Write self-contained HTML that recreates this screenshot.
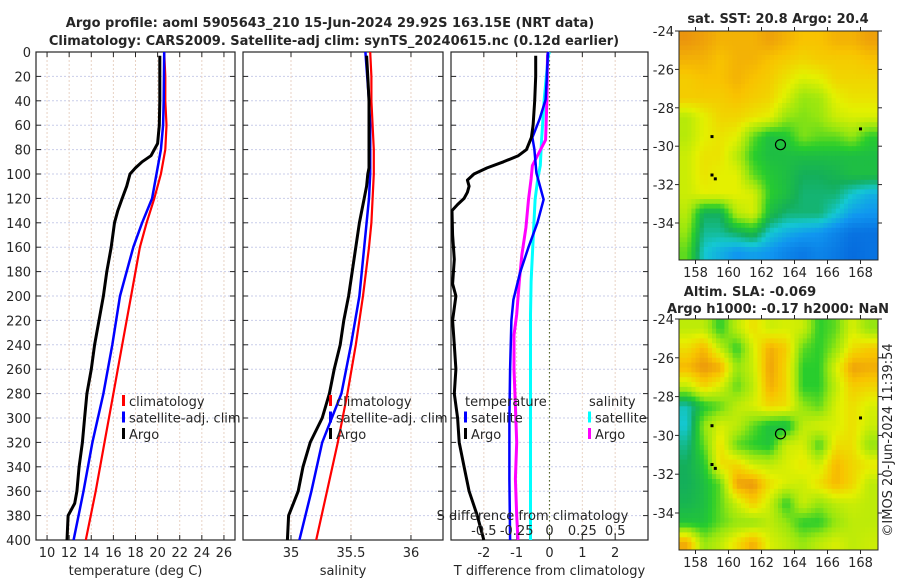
<!DOCTYPE html>
<html><head><meta charset="utf-8"><style>
html,body{margin:0;padding:0;background:#fff;}
svg{display:block;font-family:"DejaVu Sans","Liberation Sans",sans-serif;}
</style></head><body>
<svg id="fig" width="900" height="580" viewBox="0 0 900 580"></svg>
<script>
// ---------- data ----------
const depthTicks=[0,20,40,60,80,100,120,140,160,180,200,220,240,260,280,300,320,340,360,380,400];
const tempTicks=[10,12,14,16,18,20,22,24,26];
const salTicks=[35,35.5,36];
const salTickLabels=["35","35.5","36"];
const tdiffTicks=[-2,-1,0,1,2];
const sdiffTicks=[-0.5,-0.25,0,0.25,0.5];
const sdiffTickLabels=["-0.5","-0.25","0","0.25","0.5"];
const latTicks=[-24,-26,-28,-30,-32,-34];
const lonTicks=[158,160,162,164,166,168];

const climDepth=[0,20,40,60,80,100,120,140,160,200,240,280,320,360,400];
const climTemp=[20.6,20.7,20.7,20.8,20.7,20.3,19.7,19.0,18.4,17.6,16.8,16.0,15.2,14.4,13.5];
const satDepth=[0,40,60,80,100,120,140,160,200,240,280,320,360,400];
const satTemp=[20.6,20.55,20.5,20.3,19.9,19.5,18.6,17.8,16.6,15.9,15.1,14.1,13.3,12.4];
const argoDepth=[3,20,40,60,75,85,90,95,100,110,120,130,140,160,180,200,220,240,260,280,300,320,340,360,370,380,400];
const argoTemp=[20.2,20.2,20.2,20.15,20.0,19.4,18.6,18.0,17.5,17.2,16.8,16.4,16.1,15.8,15.4,15.1,14.7,14.3,14.0,13.6,13.4,13.2,12.9,12.7,12.5,11.9,11.8];

const climSal=[35.66,35.67,35.67,35.68,35.69,35.69,35.68,35.67,35.65,35.6,35.54,35.47,35.39,35.3,35.21];
const satSal=[35.62,35.65,35.66,35.66,35.66,35.65,35.63,35.61,35.57,35.5,35.42,35.26,35.17,35.07];
const argoSal=[35.63,35.64,35.65,35.65,35.65,35.65,35.65,35.65,35.64,35.63,35.61,35.59,35.57,35.54,35.51,35.48,35.44,35.41,35.36,35.32,35.26,35.16,35.1,35.06,35.02,34.98,34.97];

const tdDepth=[3,20,40,60,70,80,85,90,95,100,105,110,115,120,125,130,150,170,190,200,220,240,260,280,300,320,340,360,380,400];
const argoTdiff=[-0.42,-0.42,-0.45,-0.5,-0.55,-0.7,-0.95,-1.4,-1.9,-2.3,-2.5,-2.45,-2.5,-2.6,-2.8,-2.97,-2.95,-2.9,-2.95,-2.85,-2.95,-2.9,-2.85,-2.9,-2.8,-2.75,-2.6,-2.45,-2.2,-2.0];
const satTdDepth=[0,20,39,55,70,80,99,121,140,160,181,203,220,260,300,350,400];
const satTdiff=[-0.05,-0.08,-0.12,-0.3,-0.52,-0.46,-0.4,-0.18,-0.37,-0.64,-0.9,-1.1,-1.16,-1.2,-1.22,-1.22,-1.2];
const sdDepth=[0,3,39,72,93,104,121,144,166,188,215,232,260,290,320,350,380,400];
const argoSdiff=[-0.01,-0.015,-0.02,-0.03,-0.13,-0.14,-0.16,-0.18,-0.21,-0.23,-0.25,-0.27,-0.27,-0.26,-0.25,-0.26,-0.25,-0.24];
const satSdiff=[0,-0.01,-0.04,-0.06,-0.07,-0.09,-0.11,-0.12,-0.13,-0.14,-0.145,-0.145,-0.145,-0.145,-0.145,-0.145,-0.145,-0.145];

const sstGrid=[
[0.9,0.88,0.85,0.85,0.85,0.88,0.85,0.82,0.82,0.85,0.85,0.88],
[0.85,0.85,0.82,0.85,0.85,0.82,0.8,0.78,0.8,0.8,0.8,0.82],
[0.8,0.82,0.82,0.85,0.82,0.8,0.75,0.7,0.72,0.78,0.78,0.78],
[0.8,0.8,0.8,0.82,0.8,0.78,0.7,0.6,0.62,0.72,0.75,0.75],
[0.65,0.72,0.78,0.78,0.75,0.72,0.6,0.58,0.6,0.68,0.7,0.7],
[0.65,0.72,0.75,0.72,0.55,0.45,0.48,0.58,0.55,0.55,0.6,0.5],
[0.68,0.75,0.75,0.65,0.5,0.45,0.45,0.45,0.45,0.45,0.45,0.45],
[0.68,0.75,0.72,0.72,0.55,0.48,0.45,0.4,0.4,0.42,0.45,0.45],
[0.68,0.72,0.72,0.72,0.7,0.5,0.45,0.38,0.38,0.38,0.3,0.25],
[0.65,0.4,0.4,0.65,0.7,0.45,0.38,0.38,0.38,0.3,0.22,0.2],
[0.6,0.35,0.35,0.4,0.45,0.3,0.25,0.22,0.2,0.15,0.1,0.1],
[0.55,0.3,0.25,0.2,0.22,0.2,0.15,0.12,0.15,0.12,0.08,0.1]];
const slaGrid=[
[0.66,0.66,0.5,0.66,0.76,0.68,0.7,0.68,0.5,0.55,0.7,0.6],
[0.76,0.84,0.66,0.5,0.7,0.86,0.8,0.55,0.5,0.6,0.76,0.8],
[0.84,0.9,0.86,0.6,0.68,0.88,0.78,0.5,0.5,0.7,0.88,0.86],
[0.66,0.78,0.7,0.55,0.66,0.86,0.78,0.5,0.5,0.66,0.8,0.78],
[0.32,0.48,0.55,0.66,0.7,0.78,0.76,0.6,0.55,0.7,0.76,0.7],
[0.3,0.6,0.7,0.66,0.55,0.46,0.44,0.66,0.7,0.7,0.76,0.68],
[0.36,0.55,0.76,0.55,0.5,0.47,0.68,0.7,0.52,0.76,0.76,0.6],
[0.4,0.48,0.76,0.78,0.68,0.66,0.7,0.74,0.68,0.84,0.78,0.74],
[0.4,0.45,0.55,0.88,0.9,0.76,0.7,0.68,0.76,0.84,0.78,0.66],
[0.42,0.45,0.55,0.68,0.8,0.68,0.5,0.68,0.6,0.66,0.68,0.66],
[0.47,0.47,0.55,0.6,0.6,0.66,0.6,0.5,0.5,0.6,0.66,0.66],
[0.86,0.6,0.66,0.76,0.86,0.7,0.66,0.6,0.66,0.7,0.66,0.68]];
const argoLon=163.15, argoLat=-29.92;
const dotLon=[159,159,159.2,168];
const dotLat=[-29.5,-31.5,-31.7,-29.1];

// ---------- helpers ----------
const NS="http://www.w3.org/2000/svg";
const svg=document.getElementById('fig');
function mk(tag,attrs,parent){const e=document.createElementNS(NS,tag);for(const k in attrs)e.setAttribute(k,attrs[k]);(parent||svg).appendChild(e);return e;}
function txt(s,x,y,opt,parent){const e=mk('text',Object.assign({x:x,y:y,'font-size':13,fill:'#262626','text-anchor':'middle'},opt||{}),parent);e.textContent=s;return e;}

const PT=52,PB=540;
const yD=d=>PT+(d/400)*(PB-PT);
const panels=[
 {x0:36,x1:235,min:9,max:27,name:'temperature-panel'},
 {x0:243,x1:443,min:34.6,max:36.267,name:'salinity-panel'},
 {x0:451,x1:648,min:-3,max:3,name:'difference-panel'}];
function xf(p){return v=>p.x0+(v-p.min)/(p.max-p.min)*(p.x1-p.x0);}
const xT=xf(panels[0]),xS=xf(panels[1]),xTd=xf(panels[2]);
const xSd=v=>xTd(v*4);

// titles
let t=txt('Argo profile: aoml 5905643_210 15-Jun-2024 29.92S 163.15E (NRT data)',330,27,{'font-weight':'bold'});

t=txt('Climatology: CARS2009. Satellite-adj clim: synTS_20240615.nc (0.12d earlier)',334,45,{'font-weight':'bold'});


// panel frames + grids
panels.forEach((p,i)=>{
 const g=mk('g',{});
 
 const xs=i===0?tempTicks:i===1?salTicks:tdiffTicks;
 const xfun=xf(p);
 depthTicks.forEach(d=>{
   const l=mk('line',{x1:p.x0,x2:p.x1,y1:yD(d),y2:yD(d),stroke:'#c9cdea','stroke-width':1,'stroke-dasharray':'2,2'},g);
   
   mk('line',{x1:p.x0,x2:p.x0+5,y1:yD(d),y2:yD(d),stroke:'#262626'},g);
   mk('line',{x1:p.x1-5,x2:p.x1,y1:yD(d),y2:yD(d),stroke:'#262626'},g);
   if(i===0){const tl=txt(String(d),p.x0-5,yD(d)+5,{'text-anchor':'end'},g);}
 });
 xs.forEach((v,k)=>{
   const x=xfun(v);
   const l=mk('line',{x1:x,x2:x,y1:PT,y2:PB,stroke:'#e8d2c4','stroke-width':1,'stroke-dasharray':'2,2'},g);
   
   mk('line',{x1:x,x2:x,y1:PB-5,y2:PB,stroke:'#262626'},g);
   mk('line',{x1:x,x2:x,y1:PT,y2:PT+5,stroke:'#262626'},g);
   const lab=i===1?salTickLabels[k]:String(v);
   const tl=txt(lab,x,PB+17,{},g);
 });
 const r=mk('rect',{x:p.x0,y:PT,width:p.x1-p.x0,height:PB-PT,fill:'none',stroke:'#262626','stroke-width':1.2},g);
 
});
['temperature (deg C)','salinity','T difference from climatology'].forEach((s,i)=>{
 const p=panels[i];const e=txt(s,(p.x0+p.x1)/2,PB+35,{});
 
});

// zero line
const zl=mk('line',{x1:xTd(0),x2:xTd(0),y1:PT,y2:PB,stroke:'#556b2f','stroke-width':1.2,'stroke-dasharray':'1.5,2.5'});


function line(xs,ds,xfun,color,name,w){
 const pts=xs.map((v,i)=>xfun(v).toFixed(1)+','+yD(ds[i]).toFixed(1)).join(' ');
 const e=mk('polyline',{points:pts,fill:'none',stroke:color,'stroke-width':w||2.5,'stroke-linejoin':'round'});
 
}
line(climTemp,climDepth,xT,'#ff0000','temp-climatology-line',2.2);
line(satTemp,satDepth,xT,'#0000ff','temp-satellite-line',2.5);
line(argoTemp,argoDepth,xT,'#000','temp-argo-line',3);
line(climSal,climDepth,xS,'#ff0000','sal-climatology-line',2.2);
line(satSal,satDepth,xS,'#0000ff','sal-satellite-line',2.5);
line(argoSal,argoDepth,xS,'#000','sal-argo-line',3);
line(satSdiff,sdDepth,xSd,'#00ffff','sdiff-satellite-line',3);
line(argoSdiff,sdDepth,xSd,'#ff00ff','sdiff-argo-line',3);
line(satTdiff,satTdDepth,xTd,'#0000ff','tdiff-satellite-line',2.5);
line(argoTdiff,tdDepth,xTd,'#000','tdiff-argo-line',3);

// S difference axis labels (inside)
let e=txt('S difference from climatology',xTd(0)-17,520,{});

sdiffTicks.forEach((v,k)=>{const l=txt(sdiffTickLabels[k],xSd(v),535,{});});

// legends
function legend(x,y,items,name){
 const g=mk('g',{});
 items.forEach((it,i)=>{
   const yy=y+i*16.5;
   if(it[1]){const m=mk('rect',{x:x,y:yy-6,width:3,height:11,fill:it[1]},g);}
   const tl=txt(it[0],x+(it[1]?7:1),yy+5,{'text-anchor':'start'},g);
 });
}
const legendLabels=['climatology','satellite-adj. clim','Argo'];
legend(122,401,[[legendLabels[0],'#ff0000'],[legendLabels[1],'#0000ff'],[legendLabels[2],'#000']],'temp-legend');
legend(329,401,[[legendLabels[0],'#ff0000'],[legendLabels[1],'#0000ff'],[legendLabels[2],'#000']],'sal-legend');
legend(464,401,[['temperature',null],['satellite','#0000ff'],['Argo','#000']],'tdiff-legend');
legend(588,401,[['salinity',null],['satellite','#00ffff'],['Argo','#ff00ff']],'sdiff-legend');

// ---------- maps ----------
const stops=[[0,[0,80,210]],[0.2,[16,150,240]],[0.3,[20,200,210]],[0.4,[20,175,90]],[0.5,[40,205,45]],[0.6,[150,230,16]],[0.72,[228,240,0]],[0.82,[248,195,0]],[0.92,[232,138,16]],[1,[220,110,10]]];
function cmap(v){v=Math.max(0,Math.min(1,v));for(let i=1;i<stops.length;i++){if(v<=stops[i][0]){const a=stops[i-1],b=stops[i];const f=(v-a[0])/(b[0]-a[0]);const c=a[1].map((q,k)=>Math.round(q+(b[1][k]-q)*f));return 'rgb('+c.join(',')+')';}}return 'rgb(220,110,10)';}
function drawMap(grid,mx0,mx1,my0,pxPerLat,mBottom,name){
 const lonMin=157,lonMax=169.06;
 const xL=lon=>mx0+(lon-lonMin)/(lonMax-lonMin)*(mx1-mx0);
 const yL=lat=>my0+(-24-lat)*pxPerLat;
 const g=mk('g',{});
 const clipId=name+'-clip';
 const cp=mk('clipPath',{id:clipId},g);mk('rect',{x:mx0,y:my0,width:mx1-mx0,height:mBottom-my0},cp);
 const cg=mk('g',{'clip-path':'url(#'+clipId+')'},g);
 const rows=grid.length,cols=grid[0].length,sub=4;
 const gv=(r,c)=>grid[Math.max(0,Math.min(rows-1,r))][Math.max(0,Math.min(cols-1,c))];
 for(let r=0;r<rows*sub;r++)for(let c=0;c<cols*sub;c++){
   const fr=(r+0.5)/sub-0.5,fc=(c+0.5)/sub-0.5;
   const r0=Math.floor(fr),c0=Math.floor(fc),ar=fr-r0,ac=fc-c0;
   const v=gv(r0,c0)*(1-ar)*(1-ac)+gv(r0,c0+1)*(1-ar)*ac+gv(r0+1,c0)*ar*(1-ac)+gv(r0+1,c0+1)*ar*ac;
   const x=xL(lonMin+c/sub),y=yL(-24-r/sub);
   const cell=mk('rect',{x:x.toFixed(1),y:y.toFixed(1),width:((mx1-mx0)/(12.06*sub)+0.6).toFixed(2),height:(pxPerLat/sub+0.6).toFixed(2),fill:cmap(v)},cg);
   
   
 }
 dotLon.forEach((lo,i)=>{const d=mk('rect',{x:xL(lo)-1.5,y:yL(dotLat[i])-1.5,width:3,height:3,fill:'#000'},cg);});
 const c=mk('circle',{cx:xL(argoLon),cy:yL(argoLat),r:5,fill:'none',stroke:'#000','stroke-width':1.2},g);
 
 mk('rect',{x:mx0,y:my0,width:mx1-mx0,height:mBottom-my0,fill:'none',stroke:'#262626','stroke-width':1},g);
 latTicks.forEach(la=>{const y=yL(la);mk('line',{x1:mx0-4,x2:mx0,y1:y,y2:y,stroke:'#262626'},g);mk('line',{x1:mx1,x2:mx1+4,y1:y,y2:y,stroke:'#262626'},g);
   const tl=txt(String(la),mx0-5,y+5,{'text-anchor':'end'},g);});
 lonTicks.forEach(lo=>{const x=xL(lo);mk('line',{x1:x,x2:x,y1:mBottom,y2:mBottom+4,stroke:'#262626'},g);mk('line',{x1:x,x2:x,y1:my0-4,y2:my0,stroke:'#262626'},g);
   const tl=txt(String(lo),x,mBottom+17,{},g);});
}
drawMap(sstGrid,679,878,31,19.2,260,'sst-map');
drawMap(slaGrid,679,878,319,19.4,550,'sla-map');
e=txt('sat. SST: 20.8 Argo: 20.4',778,23,{'font-weight':'bold'});
e=txt('Altim. SLA: -0.069',750,296,{'font-weight':'bold'});
e=txt('Argo h1000: -0.17 h2000: NaN',778,313,{'font-weight':'bold'});
e=txt('©IMOS 20-Jun-2024 11:39:54',0,0,{transform:'translate(892,440) rotate(-90)'});
</script>
</body></html>
